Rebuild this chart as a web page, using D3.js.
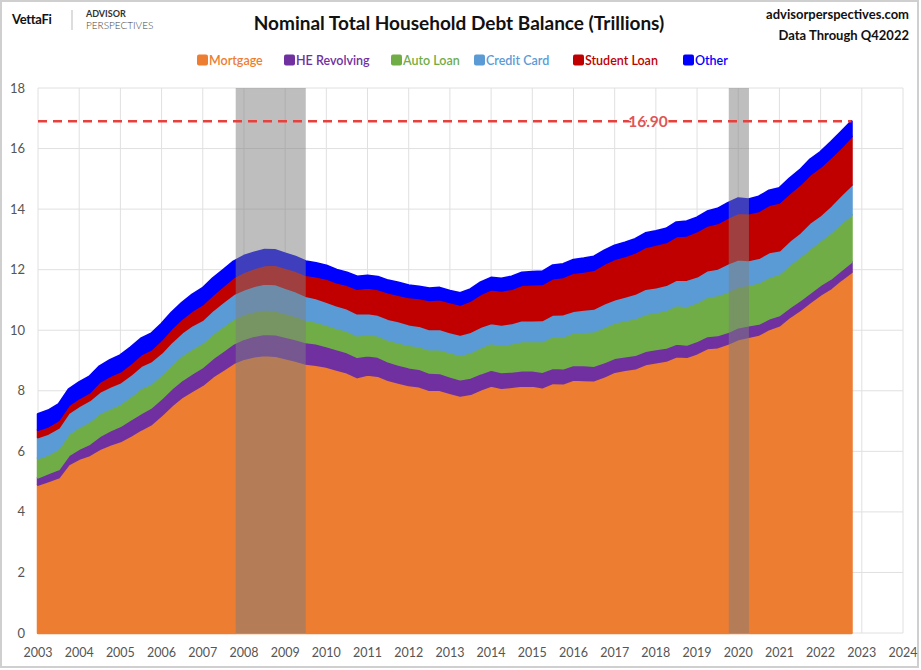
<!DOCTYPE html>
<html>
<head>
<meta charset="utf-8">
<script src="https://cdn.jsdelivr.net/npm/d3@7"></script>
<style>
  body { margin: 0; background: #fff; }
  svg { display: block; font-family: Lato, "Open Sans", sans-serif; }
</style>
</head>
<body>
<svg width="921" height="670"></svg>
<script>
// quarters 2003Q1 .. 2022Q4, trillions of dollars
var startYear = 2003, nQuarters = 80;
var seriesNames  = ["Mortgage", "HE Revolving", "Auto Loan", "Credit Card", "Student Loan", "Other"];
var seriesColors = ["#ED7D31", "#7030A0", "#70AD47", "#5B9BD5", "#C00000", "#0000FF"];

var mortgage = [
  4.90,5.02,5.14,5.58,  5.76,5.88,6.08,6.22,  6.34,6.52,6.72,6.90,
  7.20,7.52,7.80,8.00,  8.20,8.48,8.70,8.92,  9.06,9.14,9.18,9.16,
  9.08,9.00,8.90,8.86,  8.80,8.70,8.61,8.45,  8.54,8.50,8.36,8.27,
  8.19,8.15,8.03,8.03,  7.93,7.84,7.90,8.05,  8.17,8.10,8.13,8.17,
  8.17,8.12,8.26,8.25,  8.37,8.36,8.35,8.48,  8.63,8.69,8.74,8.88,
  8.94,9.00,9.14,9.12,  9.24,9.41,9.44,9.56,  9.71,9.78,9.86,10.04,
  10.16,10.44,10.67,10.93,  11.18,11.39,11.67,11.92
];
var heRevolving = [
  0.24,0.26,0.27,0.30,  0.33,0.37,0.43,0.47,  0.50,0.53,0.54,0.55,
  0.55,0.56,0.56,0.58,  0.59,0.60,0.62,0.65,  0.66,0.68,0.70,0.71,
  0.71,0.71,0.71,0.71,  0.68,0.68,0.67,0.67,  0.63,0.63,0.61,0.60,
  0.59,0.58,0.57,0.56,  0.55,0.54,0.54,0.53,  0.53,0.52,0.51,0.51,
  0.51,0.51,0.50,0.49,  0.49,0.49,0.48,0.47,  0.46,0.45,0.45,0.44,
  0.44,0.43,0.42,0.41,  0.41,0.40,0.40,0.39,  0.39,0.38,0.36,0.35,
  0.34,0.32,0.32,0.32,  0.32,0.32,0.32,0.34
];
var autoLoan = [
  0.64,0.62,0.68,0.70,  0.72,0.74,0.75,0.73,  0.73,0.77,0.83,0.79,
  0.79,0.80,0.82,0.82,  0.80,0.81,0.82,0.81,  0.81,0.81,0.81,0.79,
  0.78,0.77,0.74,0.72,  0.71,0.70,0.71,0.71,  0.70,0.70,0.72,0.73,
  0.74,0.75,0.77,0.78,  0.80,0.81,0.84,0.86,  0.88,0.90,0.93,0.96,
  0.97,1.01,1.05,1.06,  1.07,1.10,1.14,1.16,  1.17,1.19,1.21,1.22,
  1.22,1.24,1.27,1.27,  1.28,1.30,1.32,1.33,  1.35,1.34,1.36,1.37,
  1.37,1.41,1.44,1.46,  1.47,1.52,1.55,1.55
];
var creditCard = [
  0.69,0.69,0.69,0.70,  0.69,0.70,0.71,0.72,  0.71,0.71,0.73,0.74,
  0.72,0.74,0.75,0.77,  0.76,0.78,0.80,0.82,  0.82,0.84,0.85,0.87,
  0.84,0.81,0.79,0.77,  0.76,0.74,0.73,0.73,  0.70,0.69,0.69,0.70,
  0.68,0.67,0.67,0.68,  0.66,0.67,0.67,0.68,  0.66,0.67,0.67,0.70,
  0.68,0.70,0.71,0.73,  0.71,0.73,0.75,0.78,  0.76,0.78,0.81,0.83,
  0.82,0.83,0.84,0.87,  0.85,0.87,0.88,0.93,  0.89,0.82,0.81,0.82,
  0.77,0.79,0.80,0.86,  0.84,0.89,0.93,0.99
];
var studentLoan = [
  0.24,0.24,0.25,0.25,  0.26,0.26,0.33,0.35,  0.36,0.37,0.38,0.39,
  0.43,0.45,0.46,0.48,  0.51,0.51,0.53,0.55,  0.58,0.58,0.61,0.64,
  0.66,0.68,0.69,0.72,  0.76,0.76,0.78,0.81,  0.84,0.84,0.87,0.87,
  0.90,0.91,0.96,0.97,  0.99,0.99,1.03,1.08,  1.11,1.12,1.13,1.16,
  1.19,1.19,1.20,1.23,  1.26,1.26,1.28,1.31,  1.34,1.34,1.36,1.38,
  1.41,1.41,1.44,1.46,  1.49,1.48,1.50,1.51,  1.54,1.54,1.55,1.56,
  1.58,1.57,1.58,1.58,  1.59,1.59,1.57,1.60
];
var other = [
  0.52,0.52,0.52,0.52,  0.52,0.52,0.51,0.52,  0.53,0.53,0.52,0.52,
  0.52,0.52,0.52,0.53,  0.53,0.54,0.52,0.52,  0.52,0.51,0.50,0.47,
  0.46,0.45,0.44,0.43,  0.42,0.41,0.40,0.40,  0.39,0.40,0.39,0.40,
  0.38,0.38,0.38,0.38,  0.37,0.37,0.37,0.38,  0.38,0.39,0.40,0.40,
  0.40,0.41,0.42,0.42,  0.42,0.43,0.43,0.43,  0.43,0.44,0.44,0.45,
  0.44,0.44,0.45,0.46,  0.45,0.46,0.47,0.48,  0.47,0.46,0.47,0.47,
  0.47,0.48,0.48,0.49,  0.49,0.50,0.51,0.50
];
var recessions = [[2007.8, 2009.5], [2019.77, 2020.26]];
var xTicks = d3.range(2003, 2025);
var yTicks = d3.range(0, 19, 2);
var lastTotal = 16.90;

var allSeries = [mortgage, heRevolving, autoLoan, creditCard, studentLoan, other];
var table = d3.range(nQuarters).map(function(i) {
  var row = { t: startYear + i / 4 };
  seriesNames.forEach(function(k, j) { row[k] = allSeries[j][i]; });
  return row;
});

var svg = d3.select("svg");
var pL = 38, pR = 903, pT = 88, pB = 633;
var x = d3.scaleLinear().domain([2003, 2024]).range([pL, pR]);
var y = d3.scaleLinear().domain([0, 18]).range([pB, pT]);

// frame
svg.append("rect").attr("x", 1).attr("y", 1).attr("width", 917).attr("height", 666)
  .attr("fill", "none").attr("stroke", "#cfcfcf").attr("stroke-width", 2);

// grid
var grid = svg.append("g").attr("stroke", "#e0e0e0").attr("stroke-width", 1);
grid.selectAll(".v").data(xTicks).enter().append("line")
  .attr("x1", d => x(d)).attr("x2", d => x(d)).attr("y1", pT).attr("y2", pB);
grid.selectAll(".h").data(yTicks).enter().append("line")
  .attr("x1", pL).attr("x2", pR).attr("y1", d => y(d)).attr("y2", d => y(d));

// stacked areas
var stack = d3.stack().keys(seriesNames)(table);
var area = d3.area().x(d => x(d.data.t)).y0(d => y(d[0])).y1(d => y(d[1]));
svg.append("g").selectAll("path").data(stack).enter().append("path")
  .attr("d", area)
  .attr("fill", (d, i) => seriesColors[i])
  .attr("stroke", (d, i) => seriesColors[i])
  .attr("stroke-width", 2.5)
  .attr("stroke-linejoin", "round");

// recession shading
svg.append("g").selectAll("rect").data(recessions).enter().append("rect")
  .attr("x", d => x(d[0])).attr("width", d => x(d[1]) - x(d[0]))
  .attr("y", pT).attr("height", pB - pT)
  .attr("fill", "rgb(125,125,125)").attr("fill-opacity", 0.5);

// latest value line
svg.append("line")
  .attr("x1", pL).attr("x2", x(table[nQuarters - 1].t))
  .attr("y1", y(lastTotal)).attr("y2", y(lastTotal))
  .attr("stroke", "#E8413C").attr("stroke-width", 2.5).attr("stroke-dasharray", "9,6");
svg.append("text").attr("x", 648).attr("y", y(lastTotal) + 5.5)
  .attr("text-anchor", "middle").attr("font-size", 15.5).attr("font-weight", 700)
  .attr("fill", "#E05555").attr("stroke", "#fff").attr("stroke-width", 2)
  .attr("paint-order", "stroke").text("16.90");

// axes labels
svg.append("g").selectAll("text").data(yTicks).enter().append("text")
  .attr("x", 25).attr("y", d => y(d) + 4.5).attr("text-anchor", "end")
  .attr("font-size", 13).attr("fill", "#555").text(d => d);
svg.append("g").selectAll("text").data(xTicks).enter().append("text")
  .attr("x", d => x(d)).attr("y", 657).attr("text-anchor", "middle")
  .attr("font-size", 12.5).attr("fill", "#555").text(d => d);

// titles
svg.append("text").attr("x", 459).attr("y", 30).attr("text-anchor", "middle")
  .attr("font-size", 19).attr("font-weight", 700).attr("fill", "#111")
  .text("Nominal Total Household Debt Balance (Trillions)");
svg.append("text").attr("x", 909).attr("y", 19).attr("text-anchor", "end")
  .attr("font-size", 13).attr("font-weight", 700).attr("fill", "#111")
  .text("advisorperspectives.com");
svg.append("text").attr("x", 909).attr("y", 40).attr("text-anchor", "end")
  .attr("font-size", 13).attr("font-weight", 700).attr("fill", "#111")
  .text("Data Through Q42022");

// logo
svg.append("text").attr("x", 12).attr("y", 24).attr("font-size", 13)
  .attr("font-weight", 700).attr("fill", "#111").attr("letter-spacing", -0.3).text("VettaFi");
svg.append("line").attr("x1", 72).attr("x2", 72).attr("y1", 10).attr("y2", 30)
  .attr("stroke", "#bbb").attr("stroke-width", 1);
svg.append("text").attr("x", 86).attr("y", 17).attr("font-size", 9)
  .attr("font-weight", 700).attr("fill", "#333").text("ADVISOR");
svg.append("text").attr("x", 86).attr("y", 28.5).attr("font-size", 10)
  .attr("font-weight", 300).attr("fill", "#444").text("PERSPECTIVES");

// legend
var legendX = [197, 284, 391, 474, 573, 683];
var lg = svg.append("g").selectAll("g").data(seriesNames).enter().append("g")
  .attr("transform", (d, i) => "translate(" + legendX[i] + ",60)");
lg.append("rect").attr("x", 0).attr("y", -5.5).attr("width", 11).attr("height", 11)
  .attr("rx", 2).attr("fill", (d, i) => seriesColors[i]);
lg.append("text").attr("x", 12).attr("y", 4.5).attr("font-size", 12.5)
  .attr("font-weight", 600).attr("fill", (d, i) => seriesColors[i]).text(d => d);
</script>
</body>
</html>
